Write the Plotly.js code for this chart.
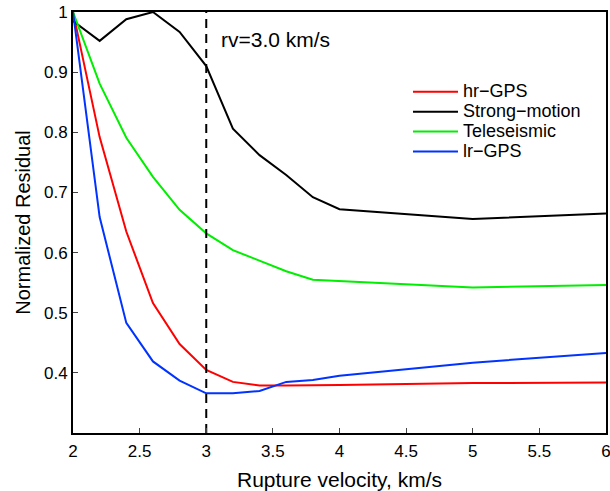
<!DOCTYPE html>
<html>
<head>
<meta charset="utf-8">
<script src="https://cdn.plot.ly/plotly-3.0.1.min.js"></script>
<style>html,body{margin:0;padding:0;background:#fff;}</style>
</head>
<body>
<div id="chart" style="width:610px;height:491px;"></div>
<script>
const vel = [2.0, 2.2, 2.4, 2.6, 2.8, 3.0, 3.2, 3.4, 3.6, 3.8, 4.0, 5.0, 6.0];
const hrGPS = [1.0, 0.792, 0.635, 0.516, 0.448, 0.405, 0.385, 0.379, 0.379, 0.379, 0.380, 0.383, 0.384];
const strongMotion = [0.985, 0.952, 0.988, 1.0, 0.967, 0.910, 0.806, 0.762, 0.729, 0.692, 0.672, 0.656, 0.665];
const teleseismic = [1.0, 0.881, 0.791, 0.726, 0.671, 0.632, 0.604, 0.586, 0.569, 0.555, 0.553, 0.542, 0.546];
const lrGPS = [1.0, 0.659, 0.483, 0.419, 0.387, 0.366, 0.366, 0.370, 0.385, 0.388, 0.395, 0.417, 0.433];
const seriesNames = ["hr\u2212GPS", "Strong\u2212motion", "Teleseismic", "lr\u2212GPS"];
const seriesColors = ["#ff0000", "#000000", "#00ee00", "#0033ff"];
const rvLine = 3.0;
const rvLabel = "rv=3.0 km/s";
const xTicks = [2, 2.5, 3, 3.5, 4, 4.5, 5, 5.5, 6];
const yTicks = [0.4, 0.5, 0.6, 0.7, 0.8, 0.9, 1];
const yTickText = ["0.4", "0.5", "0.6", "0.7", "0.8", "0.9", "1"];

const ys = [hrGPS, strongMotion, teleseismic, lrGPS];
const traces = ys.map((y, i) => ({
  x: vel, y: y, type: "scatter", mode: "lines",
  name: '<span style="font-size:18px">' + seriesNames[i] + '</span>',
  line: {color: seriesColors[i], width: 2}
}));
traces.push({
  x: [rvLine, rvLine], y: [0.3, 1.0], type: "scatter", mode: "lines",
  showlegend: false, line: {color: "#000", width: 2, dash: "9px,6px"}
});

const fam = "Liberation Sans, Arial, sans-serif";
const layout = {
  width: 610, height: 491,
  margin: {l: 73, r: 4, t: 12, b: 58},
  paper_bgcolor: "#fff", plot_bgcolor: "#fff",
  font: {family: fam, color: "#000", size: 17},
  showlegend: true,
  legend: {x: 0.6285, y: 0.846, xanchor: "left", yanchor: "top", bgcolor: "rgba(0,0,0,0)",
           font: {family: fam, size: 13, color: "#000"}, tracegroupgap: 0, itemwidth: 45},
  xaxis: {
    range: [2, 6], tickvals: xTicks, ticks: "inside", ticklen: 5, tickwidth: 1,
    showline: true, linewidth: 2, linecolor: "#000", mirror: true,
    showgrid: false, zeroline: false, ticklabeloverflow: "allow",
    tickfont: {size: 17}, ticklabelstandoff: 2,
    title: {text: "Rupture velocity, km/s", font: {size: 21}, standoff: 12}
  },
  yaxis: {
    range: [0.3, 1.0], tickvals: yTicks, ticktext: yTickText, ticks: "inside", ticklen: 5, tickwidth: 1,
    showline: true, linewidth: 2, linecolor: "#000", mirror: true,
    showgrid: false, zeroline: false,
    tickfont: {size: 17},
    title: {text: "Normalized Residual", font: {size: 20}, standoff: 8}
  },
  annotations: [{
    x: rvLine, y: 0.955, xref: "x", yref: "y", text: rvLabel, showarrow: false,
    xanchor: "left", yanchor: "middle", xshift: 13, font: {size: 21}
  }]
};
Plotly.newPlot("chart", traces, layout, {displayModeBar: false, staticPlot: true});
</script>
</body>
</html>
